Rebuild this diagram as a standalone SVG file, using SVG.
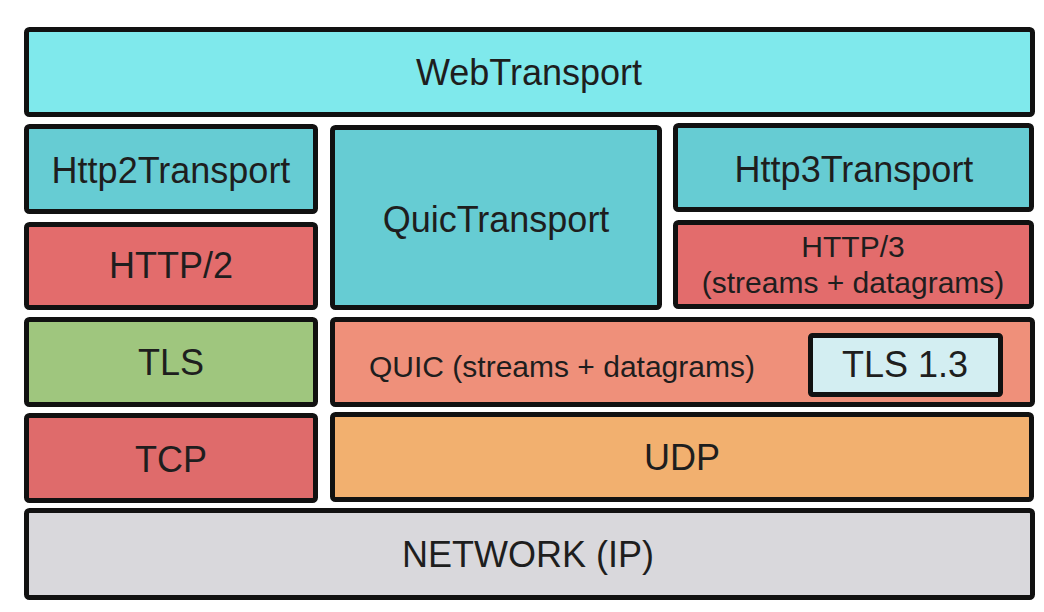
<svg xmlns="http://www.w3.org/2000/svg" width="1044" height="612" viewBox="0 0 1044 612">
<style>
.b{stroke:#111;stroke-width:5;}
.t{font-family:"Liberation Sans",Arial,sans-serif;font-size:36px;fill:#1e1e1e;text-anchor:middle;}
.s{font-size:30px;}
</style>
<rect x="0" y="0" width="1044" height="612" fill="#ffffff"/>
<g id="webtransport"><rect class="b" x="26.5" y="29.5" width="1006" height="85" rx="3" fill="#7fe9ec"/><text class="t" x="529" y="85">WebTransport</text></g>
<g id="http2transport"><rect class="b" x="26.5" y="126.5" width="289" height="85" rx="3" fill="#66ccd3"/><text class="t" x="171" y="183">Http2Transport</text></g>
<g id="http2"><rect class="b" x="26.5" y="224.5" width="289" height="83" rx="3" fill="#e36c6c"/><text class="t" x="171" y="278">HTTP/2</text></g>
<g id="tls"><rect class="b" x="26.5" y="319.5" width="289" height="85" rx="3" fill="#9fc67e"/><text class="t" x="171" y="375">TLS</text></g>
<g id="tcp"><rect class="b" x="26.5" y="415.5" width="289" height="85" rx="3" fill="#df6b6b"/><text class="t" x="171" y="472">TCP</text></g>
<g id="quictransport"><rect class="b" x="332.5" y="127.5" width="327" height="180" rx="3" fill="#66ccd3"/><text class="t" x="496" y="232">QuicTransport</text></g>
<g id="http3transport"><rect class="b" x="675.5" y="125.5" width="356" height="84" rx="3" fill="#66ccd3"/><text class="t" x="854" y="182">Http3Transport</text></g>
<g id="http3"><rect class="b" x="675.5" y="222.5" width="356" height="84" rx="3" fill="#e36c6c"/><text class="t s" x="853" y="257">HTTP/3</text><text class="t s" x="853" y="293">(streams + datagrams)</text></g>
<g id="quic"><rect class="b" x="332.5" y="319.5" width="700" height="85" rx="3" fill="#ef907a"/><text class="t s" x="369" y="377" style="text-anchor:start">QUIC (streams + datagrams)</text></g>
<g id="tls13"><rect class="b" x="810.5" y="335.5" width="190" height="59" rx="2" fill="#d3eef2"/><text class="t" x="905" y="377">TLS 1.3</text></g>
<g id="udp"><rect class="b" x="332.5" y="414.5" width="699" height="85" rx="3" fill="#f2b06f"/><text class="t" x="682" y="470">UDP</text></g>
<g id="network"><rect class="b" x="26.5" y="510.5" width="1006" height="87" rx="3" fill="#d9d8dc"/><text class="t" x="528" y="567">NETWORK (IP)</text></g>
<g id="connectors"></g>
</svg>
